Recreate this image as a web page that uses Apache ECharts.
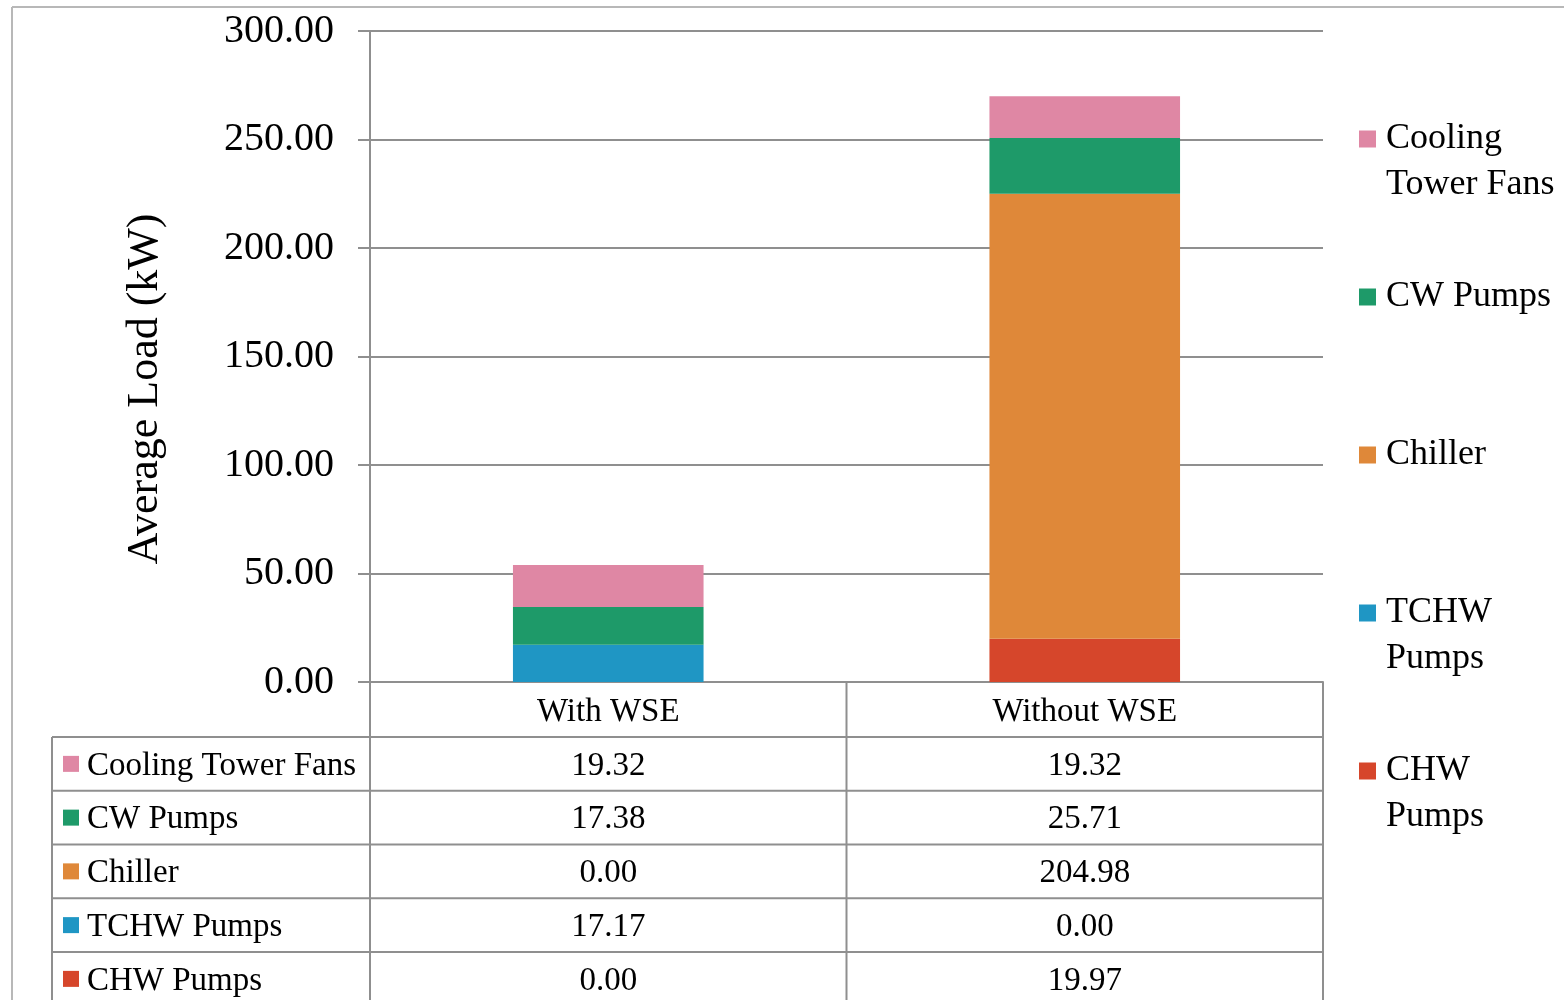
<!DOCTYPE html>
<html>
<head>
<meta charset="utf-8">
<script src="https://cdn.jsdelivr.net/npm/echarts@6/dist/echarts.min.js"></script>
<style>
  html, body { margin: 0; padding: 0; background: #ffffff; }
  #chart { width: 1564px; height: 1000px; }
</style>
</head>
<body>
<div id="chart"></div>
<script>
// Average load per component, with and without the waterside economizer
const categories = ['With WSE', 'Without WSE'];
const coolingTowerFans = [19.32, 19.32];
const cwPumps = [17.38, 25.71];
const chiller = [0.00, 204.98];
const tchwPumps = [17.17, 0.00];
const chwPumps = [0.00, 19.97];

// Value axis range
const yMin = 0, yMax = 300, yStep = 50;

// Table / legend order (top to bottom)
const rowNames = ['Cooling Tower Fans', 'CW Pumps', 'Chiller', 'TCHW Pumps', 'CHW Pumps'];
const rowValues = [coolingTowerFans, cwPumps, chiller, tchwPumps, chwPumps];
const rowColors = ['#df87a4', '#1e9a69', '#df8839', '#1f96c4', '#d6462b'];
// Legend text broken into lines
const legendLines = [['Cooling', 'Tower Fans'], ['CW Pumps'], ['Chiller'], ['TCHW', 'Pumps'], ['CHW', 'Pumps']];
const legendTops = [121, 279, 437, 595, 753];

const FONT = "'Liberation Serif', 'Times New Roman', serif";
const GRID_LINE = '#8f8f8f';

// Stacked from the bottom up: reverse of table order
const series = rowNames.map((name, i) => ({
  name: name,
  type: 'bar',
  stack: 'load',
  barWidth: '40%',
  data: rowValues[i],
  itemStyle: { color: rowColors[i] },
  emphasis: { disabled: true }
})).reverse();

const legends = rowNames.map((name, i) => {
  const rich = {
    k: { width: 17, height: 17, backgroundColor: rowColors[i], verticalAlign: 'middle' },
    sp: { width: 17, height: 17, verticalAlign: 'middle' },
    t: { fontFamily: FONT, fontSize: 36, lineHeight: 46, color: '#000', padding: [0, 0, 0, 10], verticalAlign: 'middle' }
  };
  return {
    data: [name],
    orient: 'vertical',
    left: 1354,
    top: legendTops[i],
    padding: 0,
    itemWidth: 0,
    itemHeight: 0,
    selectedMode: false,
    formatter: () => legendLines[i].map((l, j) => (j === 0 ? '{k|}' : '{sp|}') + '{t|' + l + '}').join('\n'),
    textStyle: { rich: rich }
  };
});

const option = {
  animation: false,
  backgroundColor: '#ffffff',
  grid: { left: 370, right: 241, top: 31, bottom: 318, containLabel: false },
  legend: legends,
  xAxis: {
    type: 'category',
    data: categories,
    axisLine: { show: true, lineStyle: { color: GRID_LINE, width: 2 } },
    axisTick: { show: false },
    axisLabel: { fontFamily: FONT, fontSize: 33, color: '#000', margin: 14 }
  },
  yAxis: {
    type: 'value',
    min: yMin,
    max: yMax,
    interval: yStep,
    axisLine: { show: true, lineStyle: { color: GRID_LINE, width: 2 } },
    axisTick: { show: true, length: 12, lineStyle: { color: GRID_LINE, width: 2 } },
    splitLine: { show: true, lineStyle: { color: GRID_LINE, width: 2 } },
    axisLabel: { fontFamily: FONT, fontSize: 40, color: '#000', margin: 36, padding: [8, 0, 0, 0], formatter: v => v.toFixed(2) }
  },
  series: series
};

const chart = echarts.init(document.getElementById('chart'), null, { renderer: 'canvas' });
chart.setOption(option);

// Data table beneath the plot, aligned with the category axis
const colX = categories.map(c => chart.convertToPixel({ xAxisIndex: 0 }, c));
const half = (colX[1] - colX[0]) / 2;
const tableLeftPlot = colX[0] - half;
const tableMid = colX[0] + half;
const tableRight = colX[1] + half;
const baseY = chart.convertToPixel({ yAxisIndex: 0 }, 0);
const headerBottom = baseY + 55;
const rowH = 53.75;
const tableLeft = 52;
const pageBottom = 1000;

const line = (x1, y1, x2, y2, color, w) => ({
  type: 'line', silent: true,
  shape: { x1: x1, y1: y1, x2: x2, y2: y2 },
  style: { stroke: color || GRID_LINE, lineWidth: w || 2 }
});

const graphics = [];
// outer frame
graphics.push(line(12, 7, 1564, 7, '#b8b8b8', 2));
graphics.push(line(12, 7, 12, pageBottom, '#b8b8b8', 2));
// axis title
graphics.push({
  type: 'text', silent: true,
  x: 145, y: 389, rotation: Math.PI / 2,
  style: { text: 'Average Load (kW)', fontFamily: FONT, fontSize: 44, fill: '#000', align: 'center', verticalAlign: 'middle' }
});
// table verticals
graphics.push(line(tableLeftPlot, baseY, tableLeftPlot, pageBottom));
graphics.push(line(tableMid, baseY, tableMid, pageBottom));
graphics.push(line(tableRight, baseY, tableRight, pageBottom));
graphics.push(line(tableLeft, headerBottom, tableLeft, pageBottom));
// table rows
rowNames.forEach((name, i) => {
  const top = headerBottom + i * rowH;
  const cy = top + rowH / 2 + 2;
  graphics.push(line(tableLeft, top, tableRight, top));
  graphics.push({
    type: 'rect', silent: true,
    shape: { x: 63, y: cy - 10, width: 16, height: 16 },
    style: { fill: rowColors[i] }
  });
  graphics.push({
    type: 'text', silent: true, x: 87, y: cy,
    style: { text: name, fontFamily: FONT, fontSize: 33, fill: '#000', align: 'left', verticalAlign: 'middle' }
  });
  rowValues[i].forEach((v, j) => {
    graphics.push({
      type: 'text', silent: true, x: colX[j], y: cy,
      style: { text: v.toFixed(2), fontFamily: FONT, fontSize: 33, fill: '#000', align: 'center', verticalAlign: 'middle' }
    });
  });
});

chart.setOption({ graphic: graphics });
</script>
</body>
</html>
